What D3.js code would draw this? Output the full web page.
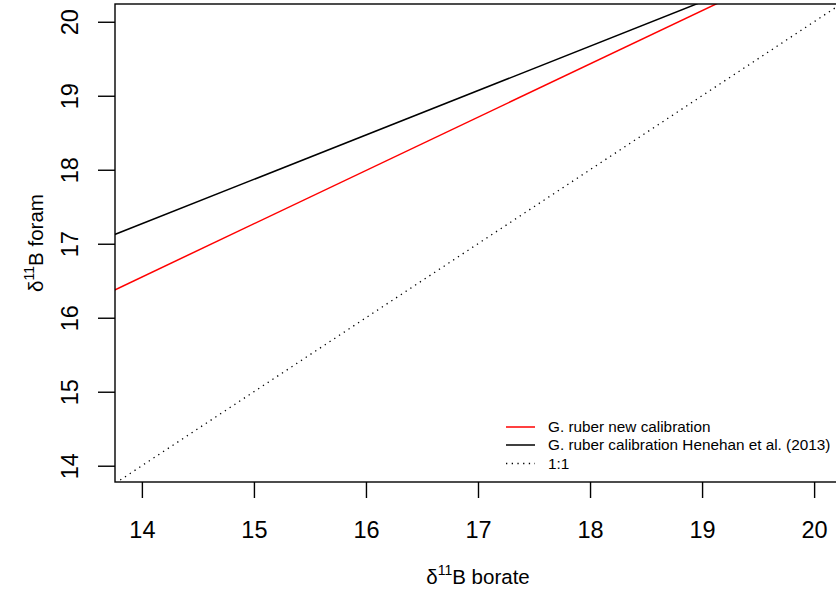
<!DOCTYPE html>
<html><head><meta charset="utf-8">
<script src="https://cdn.jsdelivr.net/npm/d3@7/dist/d3.min.js"></script>
<style>body{margin:0;background:#fff}svg{display:block}text{font-family:"Liberation Sans",Arial,Helvetica,sans-serif;fill:#000}</style>
</head><body>
<script>
const xTicks = [14, 15, 16, 17, 18, 19, 20];
const yTicks = [14, 15, 16, 17, 18, 19, 20];
const borateEnds = [13, 21];
const newCalibration = [15.83, 21.59];
const henehanCalibration = [16.67, 21.47];
const oneToOne = [13, 21];
const legendLabels = ["G. ruber new calibration", "G. ruber calibration Henehan et al. (2013)", "1:1"];

const W = 836, H = 594;
const L = 115, T = 4, B = 482, R = 841;
const svg = d3.select("body").append("svg").attr("width", W).attr("height", H);
const x = d3.scaleLinear().domain([13.76, 20.24]).range([L, R]);
const y = d3.scaleLinear().domain([13.78, 20.24]).range([B, T]);

svg.append("defs").append("clipPath").attr("id", "clip")
  .append("rect").attr("x", L).attr("y", T).attr("width", R - L).attr("height", B - T);

const g = svg.append("g").attr("clip-path", "url(#clip)");
const line = d3.line().x(d => x(d[0])).y(d => y(d[1]));
const series = [
  {vals: newCalibration, color: "#ff0000", dash: null},
  {vals: henehanCalibration, color: "#000", dash: null},
  {vals: oneToOne, color: "#000", dash: "1.3,4.4"}
];
series.forEach(s => {
  g.append("path").datum(borateEnds.map((b, i) => [b, s.vals[i]]))
    .attr("d", line).attr("fill", "none").attr("stroke", s.color)
    .attr("stroke-width", s.dash ? 1.3 : 1.5)
    .attr("stroke-dasharray", s.dash);
});

// box
svg.append("rect").attr("x", L).attr("y", T).attr("width", R - L).attr("height", B - T)
  .attr("fill", "none").attr("stroke", "#000").attr("stroke-width", 1.4);

// x axis
const xa = svg.append("g").attr("transform", `translate(0,${B})`)
  .call(d3.axisBottom(x).tickValues(xTicks).tickSize(16).tickPadding(24).tickFormat(d3.format("d")));
xa.select(".domain").remove();
xa.selectAll("line").attr("stroke-width", 1.4);
xa.selectAll("text").attr("font-size", 23.5).attr("dy", 0).attr("y", 56);

// y axis
const ya = svg.append("g").attr("transform", `translate(${L},0)`)
  .call(d3.axisLeft(y).tickValues(yTicks).tickSize(17).tickFormat(d3.format("d")));
ya.select(".domain").remove();
ya.selectAll("line").attr("stroke-width", 1.4);
ya.selectAll("text").attr("font-size", 23.5).attr("text-anchor", "middle")
  .attr("x", null).attr("dy", null)
  .attr("transform", "translate(-37,0) rotate(-90)");

// axis titles
const xt = svg.append("text").attr("x", (L + R) / 2).attr("y", 584).attr("text-anchor", "middle").attr("font-size", 20.5);
xt.append("tspan").text("δ");
xt.append("tspan").attr("font-size", 14).attr("dy", -9).text("11");
xt.append("tspan").attr("dy", 9).text("B borate");

const yt = svg.append("text").attr("transform", `translate(43,${(T + B) / 2}) rotate(-90)`).attr("text-anchor", "middle").attr("font-size", 20.5);
yt.append("tspan").text("δ");
yt.append("tspan").attr("font-size", 14).attr("dy", -9).text("11");
yt.append("tspan").attr("dy", 9).text("B foram");

// legend
const leg = svg.append("g");
const rowsY = [427, 445, 463.5];
legendLabels.forEach((lab, i) => {
  const s = series[i];
  leg.append("line").attr("x1", 506).attr("x2", 535).attr("y1", rowsY[i]).attr("y2", rowsY[i])
    .attr("stroke", s.color).attr("stroke-width", s.dash ? 1.3 : 1.5).attr("stroke-dasharray", s.dash);
  leg.append("text").attr("x", 548).attr("y", rowsY[i] + 5).attr("font-size", 15.3).text(lab);
});
</script>
</body></html>
